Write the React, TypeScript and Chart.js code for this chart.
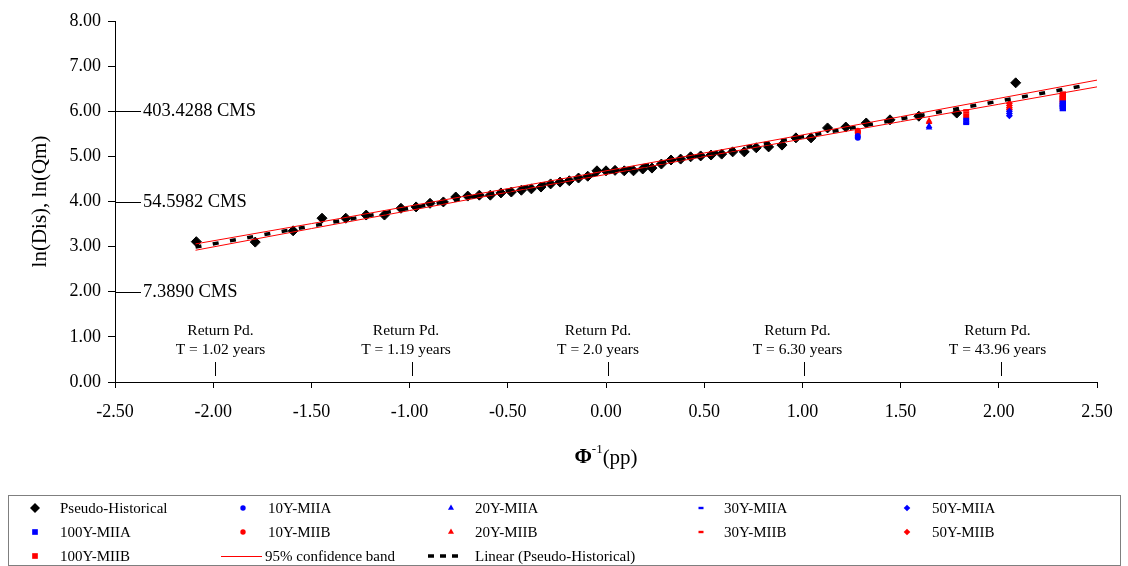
import React, { useEffect, useRef } from "react";
import { Chart, registerables } from "chart.js";

Chart.register(...registerables);

const FONT = '"Liberation Serif", "Times New Roman", serif';

// Standard normal quantiles of plotting positions (Pseudo-Historical)
const phiX = [
  -2.086, -1.786, -1.593, -1.446, -1.325, -1.221, -1.128, -1.044, -0.967, -0.896,
  -0.828, -0.765, -0.704, -0.645, -0.589, -0.535, -0.482, -0.431, -0.38, -0.331,
  -0.282, -0.234, -0.187, -0.14, -0.093, -0.046, 0, 0.046, 0.093, 0.14,
  0.187, 0.234, 0.282, 0.331, 0.38, 0.431, 0.482, 0.535, 0.589, 0.645,
  0.704, 0.765, 0.828, 0.896, 0.967, 1.044, 1.128, 1.221, 1.325, 1.446,
  1.593, 1.786, 2.086,
];
// ln(Dis) values of Pseudo-Historical series
const lnQ = [
  3.11, 3.1, 3.35, 3.63, 3.63, 3.7, 3.7, 3.85, 3.88, 3.96,
  3.99, 4.1, 4.12, 4.14, 4.14, 4.19, 4.21, 4.25, 4.28, 4.32,
  4.39, 4.43, 4.46, 4.52, 4.56, 4.68, 4.68, 4.69, 4.68, 4.68,
  4.72, 4.74, 4.83, 4.92, 4.94, 4.99, 5.01, 5.03, 5.05, 5.1,
  5.1, 5.19, 5.21, 5.25, 5.41, 5.41, 5.63, 5.65, 5.74, 5.81,
  5.89, 5.96, 6.63,
];

// Return-period abscissae for model series: 10, 20, 30, 50, 100 years
const z10 = 1.282;
const z20 = 1.645;
const z30 = 1.834;
const z50 = 2.054;
const z100 = 2.326;

const q10A = [5.45, 5.41];
const q20A = [5.67, 5.64];
const q30A = [5.83, 5.79, 5.75, 5.72];
const q50A = [6.0, 5.95, 5.9];
const q100A = [6.17, 6.12, 6.07];
const q10B = [5.57, 5.54, 5.52];
const q20B = [5.79, 5.76];
const q30B = [6.02, 5.97, 5.92, 5.87];
const q50B = [6.18, 6.13, 6.08, 6.04];
const q100B = [6.37, 6.32, 6.27, 6.22];

// 95% confidence band
const bandX = [-2.09, -1.5, -1.0, -0.5, 0, 0.5, 1.0, 1.5, 2.0, 2.5];
const bandUpper = [3.06, 3.51, 3.9, 4.285, 4.68, 5.075, 5.475, 5.88, 6.285, 6.69];
const bandLower = [2.92, 3.4, 3.8, 4.205, 4.6, 4.995, 5.385, 5.77, 6.155, 6.54];

// Linear trend (Pseudo-Historical)
const trendX = [-2.09, 2.45];
const trendY = [2.99, 6.58];

// Annotations
const cmsLevels = [6, 4, 2];
const cmsLabels = ["403.4288 CMS", "54.5982 CMS", "7.3890 CMS"];
const rpZ = [-2, -1, 0, 1, 2];
const rpLabels = ["T = 1.02 years", "T = 1.19 years", "T = 2.0 years", "T = 6.30 years", "T = 43.96 years"];

const BLUE = "#0000FF";
const RED = "#FF0000";

function drawMarker(ctx: CanvasRenderingContext2D, style: string, x: number, y: number, r: number, color: string) {
  ctx.save();
  ctx.fillStyle = color;
  ctx.strokeStyle = color;
  ctx.beginPath();
  if (style === "rectRot") {
    ctx.moveTo(x, y - r);
    ctx.lineTo(x + r, y);
    ctx.lineTo(x, y + r);
    ctx.lineTo(x - r, y);
    ctx.closePath();
    ctx.fill();
  } else if (style === "circle") {
    ctx.arc(x, y, r, 0, Math.PI * 2);
    ctx.fill();
  } else if (style === "triangle") {
    ctx.moveTo(x, y - r);
    ctx.lineTo(x + r * 0.866, y + r / 2);
    ctx.lineTo(x - r * 0.866, y + r / 2);
    ctx.closePath();
    ctx.fill();
  } else if (style === "line") {
    ctx.fillRect(x - r, y - 1.2, 2 * r, 2.4);
  } else if (style === "rect") {
    const h = r * Math.SQRT1_2;
    ctx.fillRect(x - h, y - h, 2 * h, 2 * h);
  }
  ctx.restore();
}

const overlay = {
  id: "overlay",
  afterDraw(chart: any) {
    const { ctx, chartArea, scales } = chart;
    const xs = scales.x;
    const ys = scales.y;
    ctx.save();
    ctx.fillStyle = "#000";
    ctx.strokeStyle = "#000";
    ctx.lineWidth = 1;

    // CMS annotations
    ctx.font = `18.5px ${FONT}`;
    ctx.textBaseline = "middle";
    ctx.textAlign = "left";
    cmsLevels.forEach((v, i) => {
      const py = Math.round(ys.getPixelForValue(v)) + 0.5;
      ctx.beginPath();
      ctx.moveTo(chartArea.left, py);
      ctx.lineTo(chartArea.left + 26, py);
      ctx.stroke();
      ctx.fillText(cmsLabels[i], chartArea.left + 28, py);
    });

    // Return period annotations
    const textShift = [5, -6.5, -10.5, -7, -4];
    ctx.font = `15.5px ${FONT}`;
    ctx.textAlign = "center";
    rpZ.forEach((z, i) => {
      const px = Math.round(xs.getPixelForValue(z) + 2) + 0.5;
      const cx = px + textShift[i];
      ctx.fillText("Return Pd.", cx, chartArea.bottom - 51);
      ctx.fillText(rpLabels[i], cx, chartArea.bottom - 32);
      ctx.beginPath();
      ctx.moveTo(px, chartArea.bottom - 20);
      ctx.lineTo(px, chartArea.bottom - 6);
      ctx.stroke();
    });

    // Y axis title
    ctx.save();
    ctx.translate(40, (chartArea.top + chartArea.bottom) / 2);
    ctx.rotate(-Math.PI / 2);
    ctx.font = `21px ${FONT}`;
    ctx.textAlign = "center";
    ctx.textBaseline = "middle";
    ctx.fillText("ln(Dis), ln(Qm)", 0, 0);
    ctx.restore();

    // X axis title: Φ^-1(pp)
    ctx.textAlign = "left";
    ctx.textBaseline = "middle";
    const fPhi = `bold 21px ${FONT}`;
    const fSup = `13px ${FONT}`;
    const fMain = `21px ${FONT}`;
    ctx.font = fPhi;
    const wPhi = ctx.measureText("Φ").width;
    ctx.font = fSup;
    const wSup = ctx.measureText("-1").width;
    ctx.font = fMain;
    const wMain = ctx.measureText("(pp)").width;
    const total = wPhi + wSup + wMain;
    let tx = (chartArea.left + chartArea.right) / 2 - total / 2;
    const ty = 458;
    ctx.font = fPhi;
    ctx.fillText("Φ", tx, ty);
    tx += wPhi;
    ctx.font = fSup;
    ctx.fillText("-1", tx, ty - 8);
    tx += wSup;
    ctx.font = fMain;
    ctx.fillText("(pp)", tx, ty);

    // Legend
    ctx.strokeStyle = "#7f7f7f";
    ctx.strokeRect(8.5, 495.5, 1112, 70);
    const markerX = [35, 243, 451, 701, 907];
    const textX = [60, 268, 475, 724, 932];
    const rowY = [508, 532, 556];
    ctx.font = `15px ${FONT}`;
    ctx.textAlign = "left";
    ctx.textBaseline = "middle";
    const entries = chart.data.datasets.filter((d: any) => !d.hideInLegend);
    entries.forEach((d: any, k: number) => {
      const row = Math.floor(k / 5);
      const col = k % 5;
      const y = rowY[row];
      let textStart = textX[col];
      if (d.showLine) {
        ctx.save();
        ctx.strokeStyle = d.borderColor;
        ctx.lineWidth = d.borderWidth;
        ctx.setLineDash(d.legendDash || []);
        ctx.beginPath();
        if (d.legendDash) {
          ctx.moveTo(markerX[col] - 23, y);
          ctx.lineTo(markerX[col] + 10, y);
        } else {
          ctx.moveTo(markerX[col] - 22, y + 0.5);
          ctx.lineTo(markerX[col] + 19, y + 0.5);
          textStart = markerX[col] + 22;
        }
        ctx.stroke();
        ctx.restore();
      } else {
        drawMarker(ctx, d.pointStyle, markerX[col], y, d.legendRadius, d.pointBackgroundColor);
      }
      ctx.fillStyle = "#000";
      ctx.fillText(d.label, textStart, y + 1);
    });
    ctx.restore();
  },
};

export default function App() {
  const ref = useRef<HTMLCanvasElement>(null);

  useEffect(() => {
    const canvas = ref.current!;
    const pts = (xv: number[], yv: number[]) => yv.map((y, i) => ({ x: xv[i], y }));
    const at = (x: number, yv: number[]) => yv.map((y) => ({ x, y }));

    const marker = (label: string, data: any[], style: string, r: number, color: string, lr: number, bw = 0) => ({
      label,
      data,
      pointStyle: style,
      pointRadius: r,
      pointBackgroundColor: color,
      pointBorderColor: color,
      pointBorderWidth: bw,
      showLine: false,
      legendRadius: lr,
      order: 0,
    });

    const chart = new Chart(canvas, {
      type: "scatter",
      data: {
        datasets: [
          marker("Pseudo-Historical", pts(phiX, lnQ), "rectRot", 5, "#000", 5, 1),
          marker("10Y-MIIA", at(z10, q10A), "circle", 3, BLUE, 2.7),
          marker("20Y-MIIA", at(z20, q20A), "triangle", 3.8, BLUE, 3.5),
          marker("30Y-MIIA", at(z30, q30A), "line", 3, BLUE, 2.5, 2.4),
          marker("50Y-MIIA", at(z50, q50A), "rectRot", 3.5, BLUE, 3.3),
          marker("100Y-MIIA", at(z100, q100A), "rect", 4.5, BLUE, 4),
          marker("10Y-MIIB", at(z10, q10B), "circle", 3, RED, 2.7),
          marker("20Y-MIIB", at(z20, q20B), "triangle", 3.8, RED, 3.5),
          marker("30Y-MIIB", at(z30, q30B), "line", 3, RED, 2.5, 2.4),
          marker("50Y-MIIB", at(z50, q50B), "rectRot", 3.5, RED, 3.3),
          marker("100Y-MIIB", at(z100, q100B), "rect", 4.5, RED, 4),
          {
            label: "95% confidence band",
            data: pts(bandX, bandUpper),
            showLine: true,
            borderColor: RED,
            borderWidth: 1,
            pointRadius: 0,
            order: -1,
          },
          {
            label: "Linear (Pseudo-Historical)",
            data: pts(trendX, trendY),
            showLine: true,
            borderColor: "#000",
            borderWidth: 3.5,
            borderDash: [6, 11.5],
            legendDash: [6, 6],
            pointRadius: 0,
            order: -1,
          },
          {
            label: "95% confidence band (lower)",
            data: pts(bandX, bandLower),
            showLine: true,
            borderColor: RED,
            borderWidth: 1,
            pointRadius: 0,
            order: -1,
            hideInLegend: true,
          },
        ] as any,
      },
      options: {
        responsive: false,
        animation: false,
        devicePixelRatio: 1,
        events: [],
        layout: { padding: { top: 21, right: 31, left: 0, bottom: 0 } },
        plugins: {
          legend: { display: false },
          tooltip: { enabled: false },
          title: { display: false },
        },
        scales: {
          x: {
            type: "linear",
            position: "bottom",
            min: -2.5,
            max: 2.5,
            ticks: {
              stepSize: 0.5,
              autoSkip: false,
              maxRotation: 0,
              padding: 13,
              color: "#000",
              font: { family: FONT, size: 18 },
              callback: (v: any) => Number(v).toFixed(2),
            },
            grid: { drawOnChartArea: false, drawTicks: true, tickLength: 6, color: "#000" },
            border: { display: true, color: "#000", width: 1 },
            afterFit: (s: any) => {
              s.height = 184;
            },
          },
          y: {
            type: "linear",
            min: 0,
            max: 8,
            ticks: {
              stepSize: 1,
              padding: 7,
              color: "#000",
              font: { family: FONT, size: 18 },
              callback: (v: any) => Number(v).toFixed(2),
            },
            grid: { drawOnChartArea: false, drawTicks: true, tickLength: 7, color: "#000" },
            border: { display: true, color: "#000", width: 1 },
            afterFit: (s: any) => {
              s.width = 115;
            },
          },
        },
      } as any,
      plugins: [overlay],
    });

    return () => chart.destroy();
  }, []);

  return (
    <div style={{ position: "absolute", left: 0, top: 0, width: 1128, height: 566, background: "#fff" }}>
      <canvas ref={ref} width={1128} height={566} style={{ display: "block", width: 1128, height: 566 }} />
    </div>
  );
}
